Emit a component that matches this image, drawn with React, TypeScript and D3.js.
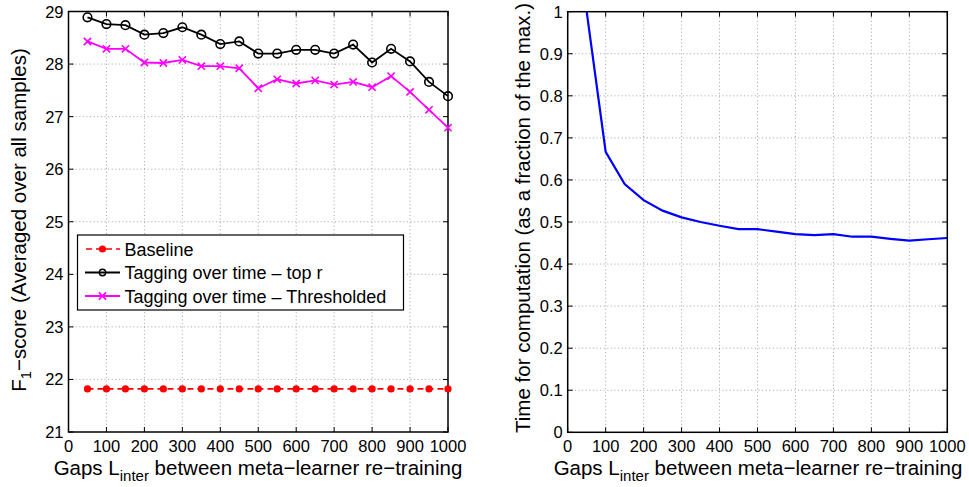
import React from "react";
import * as d3 from "d3";

const gaps = [50, 100, 150, 200, 250, 300, 350, 400, 450, 500, 550, 600, 650, 700, 750, 800, 850, 900, 950, 1000];
const baseline = [21.82, 21.82, 21.82, 21.82, 21.82, 21.82, 21.82, 21.82, 21.82, 21.82, 21.82, 21.82, 21.82, 21.82, 21.82, 21.82, 21.82, 21.82, 21.82, 21.82];
const topR = [28.89, 28.76, 28.74, 28.56, 28.59, 28.70, 28.56, 28.38, 28.43, 28.20, 28.20, 28.27, 28.27, 28.20, 28.37, 28.03, 28.29, 28.05, 27.66, 27.39];
const thresholded = [28.43, 28.29, 28.29, 28.03, 28.02, 28.08, 27.96, 27.96, 27.92, 27.54, 27.71, 27.63, 27.69, 27.61, 27.66, 27.56, 27.77, 27.47, 27.13, 26.79];
const timeFrac = [1.0, 0.667, 0.59, 0.552, 0.527, 0.511, 0.5, 0.491, 0.483, 0.483, 0.477, 0.471, 0.469, 0.471, 0.465, 0.465, 0.46, 0.4555, 0.459, 0.462];

const xTicks = [0, 100, 200, 300, 400, 500, 600, 700, 800, 900, 1000];
const leftYTicks = [21, 22, 23, 24, 25, 26, 27, 28, 29];
const rightYTicks = [0, 0.1, 0.2, 0.3, 0.4, 0.5, 0.6, 0.7, 0.8, 0.9, 1];
const legendLabels = ["Baseline", "Tagging over time \u2013 top r", "Tagging over time \u2013 Thresholded"];

const FONT = "'Liberation Sans', Arial, Helvetica, sans-serif";
const TICK_FS = 16.5;
const LABEL_FS = 20.5;
const SUB_FS = 15;
const LEG_FS = 18;

function Frame({ x, y, xTickVals, yTickVals, yFmt }: any) {
  const [x0, x1] = x.range();
  const [y0, y1] = y.range();
  const tl = 5;
  return (
    <g>
      {xTickVals.slice(1, -1).map((t: number) => (
        <line key={"gx" + t} x1={x(t)} x2={x(t)} y1={y0} y2={y1} stroke="#8a8a8a" strokeWidth={0.8} strokeDasharray="1,2.6" />
      ))}
      {yTickVals.slice(1, -1).map((t: number) => (
        <line key={"gy" + t} x1={x0} x2={x1} y1={y(t)} y2={y(t)} stroke="#8a8a8a" strokeWidth={0.8} strokeDasharray="1,2.6" />
      ))}
      {xTickVals.map((t: number) => (
        <g key={"tx" + t}>
          <line x1={x(t)} x2={x(t)} y1={y0} y2={y0 - tl} stroke="#000" strokeWidth={1} />
          <line x1={x(t)} x2={x(t)} y1={y1} y2={y1 + tl} stroke="#000" strokeWidth={1} />
          <text x={x(t)} y={y0 + 19.5} textAnchor="middle" fontSize={TICK_FS} fontFamily={FONT}>{t}</text>
        </g>
      ))}
      {yTickVals.map((t: number) => (
        <g key={"ty" + t}>
          <line x1={x0} x2={x0 + tl} y1={y(t)} y2={y(t)} stroke="#000" strokeWidth={1} />
          <line x1={x1} x2={x1 - tl} y1={y(t)} y2={y(t)} stroke="#000" strokeWidth={1} />
          <text x={x0 - 5} y={y(t) + 6} textAnchor="end" fontSize={TICK_FS} fontFamily={FONT}>{yFmt(t)}</text>
        </g>
      ))}
      <rect x={x0} y={y1} width={x1 - x0} height={y0 - y1} fill="none" stroke="#000" strokeWidth={1.5} />
    </g>
  );
}

function XLabel({ cx, y }: any) {
  return (
    <text x={cx} y={y} textAnchor="middle" fontSize={LABEL_FS} fontFamily={FONT}>
      Gaps L<tspan dy={6} fontSize={SUB_FS}>inter</tspan><tspan dy={-6}> between meta{"\u2212"}learner re{"\u2212"}training</tspan>
    </text>
  );
}

function Circle({ cx, cy }: any) {
  return <circle cx={cx} cy={cy} r={4.3} fill="none" stroke="#000" strokeWidth={1.6} />;
}
function Cross({ cx, cy }: any) {
  const s = 3.6;
  return (
    <path d={`M${cx - s},${cy - s}L${cx + s},${cy + s}M${cx - s},${cy + s}L${cx + s},${cy - s}`} stroke="#ff00ff" strokeWidth={1.6} />
  );
}

export default function App() {
  const xL = d3.scaleLinear().domain([0, 1000]).range([68.5, 448]);
  const yL = d3.scaleLinear().domain([21, 29]).range([432, 11.5]);
  const xR = d3.scaleLinear().domain([0, 1000]).range([567.7, 947.3]);
  const yR = d3.scaleLinear().domain([0, 1]).range([432.3, 11.7]);

  const lineL = (vals: number[]) => d3.line<number>().x((_, i) => xL(gaps[i])).y((v) => yL(v))(vals) as string;
  const lineR = d3.line<number>().x((_, i) => xR(gaps[i])).y((v) => yR(v))(timeFrac) as string;

  const lx = 77.5, ly = 235, lw = 326, lh = 75;
  const rows = [249, 272.5, 296];

  return (
    <svg width={969} height={487} style={{ position: "absolute", left: 0, top: 0, background: "#fff" }} fontFamily={FONT}>
      <rect width={969} height={487} fill="#fff" />
      {/* Left plot */}
      <Frame x={xL} y={yL} xTickVals={xTicks} yTickVals={leftYTicks} yFmt={(t: number) => String(t)} />
      <path d={lineL(baseline)} fill="none" stroke="#ff0000" strokeWidth={1.6} strokeDasharray="6,4" />
      {baseline.map((v, i) => <circle key={"b" + i} cx={xL(gaps[i])} cy={yL(v)} r={3.6} fill="#ff0000" />)}
      <path d={lineL(topR)} fill="none" stroke="#000" strokeWidth={1.8} />
      {topR.map((v, i) => <Circle key={"c" + i} cx={xL(gaps[i])} cy={yL(v)} />)}
      <path d={lineL(thresholded)} fill="none" stroke="#ff00ff" strokeWidth={1.8} />
      {thresholded.map((v, i) => <Cross key={"x" + i} cx={xL(gaps[i])} cy={yL(v)} />)}

      {/* Legend */}
      <rect x={lx} y={ly} width={lw} height={lh} fill="#fff" stroke="#000" strokeWidth={1.2} />
      <line x1={85} x2={120} y1={rows[0]} y2={rows[0]} stroke="#ff0000" strokeWidth={1.6} strokeDasharray="6,4" strokeDashoffset={-1} />
      <circle cx={102.5} cy={rows[0]} r={3.6} fill="#ff0000" />
      <line x1={85} x2={120} y1={rows[1]} y2={rows[1]} stroke="#000" strokeWidth={1.8} />
      <circle cx={102.5} cy={rows[1]} r={3.2} fill="none" stroke="#000" strokeWidth={1.4} />
      <line x1={85} x2={120} y1={rows[2]} y2={rows[2]} stroke="#ff00ff" strokeWidth={1.8} />
      <Cross cx={102.5} cy={rows[2]} />
      {legendLabels.map((l, i) => (
        <text key={l} x={124.5} y={rows[i] + 6.5} fontSize={LEG_FS} fontFamily={FONT}>{l}</text>
      ))}

      <g transform="translate(25.5,220) rotate(-90)">
        <text x={0} y={0} textAnchor="middle" fontSize={LABEL_FS} fontFamily={FONT}>
          F<tspan dy={5} fontSize={SUB_FS}>1</tspan><tspan dy={-5}>{"\u2212"}score (Averaged over all samples)</tspan>
        </text>
      </g>
      <XLabel cx={258} y={475} />

      {/* Right plot */}
      <Frame x={xR} y={yR} xTickVals={xTicks} yTickVals={rightYTicks} yFmt={(t: number) => String(+t.toFixed(1))} />
      <defs>
        <clipPath id="clipR"><rect x={567.7} y={11.7} width={379.6} height={420.6} /></clipPath>
      </defs>
      <path d={lineR} fill="none" stroke="#0000ff" strokeWidth={2.2} clipPath="url(#clipR)" />
      <g transform="translate(530,218) rotate(-90)">
        <text x={0} y={0} textAnchor="middle" fontSize={LABEL_FS} fontFamily={FONT}>
          Time for computation (as a fraction of the max.)
        </text>
      </g>
      <XLabel cx={758} y={475} />
    </svg>
  );
}
